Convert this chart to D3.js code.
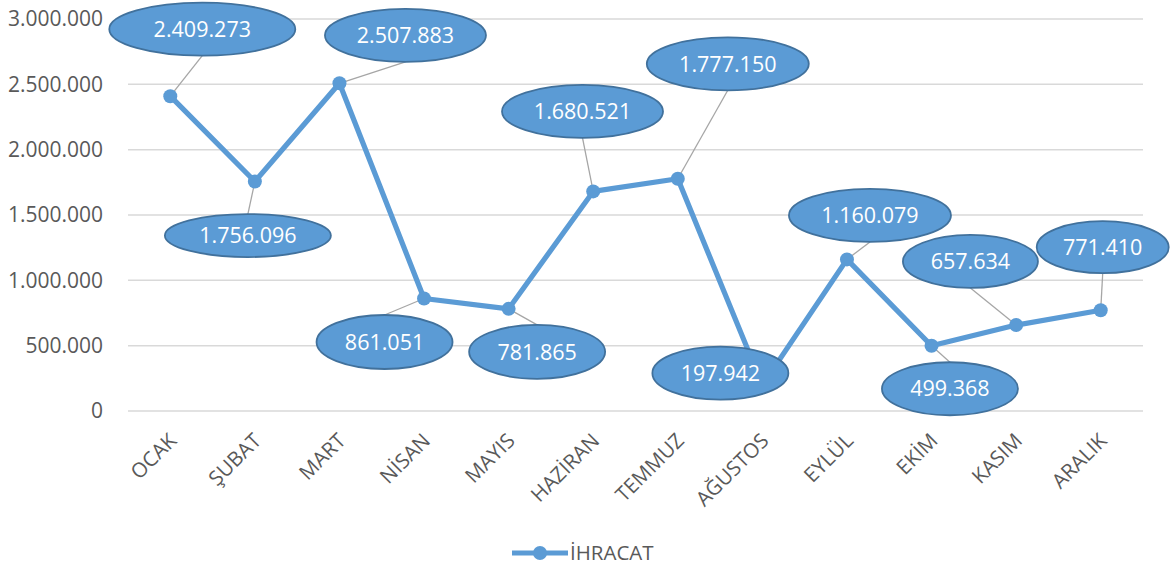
<!DOCTYPE html>
<html>
<head>
<meta charset="utf-8">
<script src="https://cdn.jsdelivr.net/npm/d3@7"></script>
<style>
  html, body { margin: 0; padding: 0; background: #fff; }
  svg { display: block; }
  text { font-family: "Open Sans", "DejaVu Sans", sans-serif; }
</style>
</head>
<body>
<svg id="chart" width="1170" height="567"></svg>
<script>
// ---- data ----
const months = ["OCAK", "ŞUBAT", "MART", "NİSAN", "MAYIS", "HAZİRAN", "TEMMUZ", "AĞUSTOS", "EYLÜL", "EKİM", "KASIM", "ARALIK"];
const ihracat = [2409273, 1756096, 2507883, 861051, 781865, 1680521, 1777150, 197942, 1160079, 499368, 657634, 771410];
const yTicks = [0, 500000, 1000000, 1500000, 2000000, 2500000, 3000000];
const seriesName = "İHRACAT";

// ---- label layout (offset from point, ellipse radii) ----
const labelLayout = [
  { dx: 32,  dy: -67,  rx: 93, ry: 26.5, leader: true },
  { dx: -7,  dy: 54,   rx: 83, ry: 21.5, leader: true },
  { dx: 66,  dy: -48,  rx: 80.5, ry: 26.5, leader: true },
  { dx: -39.5, dy: 43.5, rx: 68, ry: 27, leader: true },
  { dx: 28.5, dy: 43,  rx: 68, ry: 27, leader: true },
  { dx: -10.7, dy: -80, rx: 80.5, ry: 26.5, leader: true },
  { dx: 50,  dy: -115, rx: 81, ry: 26.5, leader: true },
  { dx: -42, dy: -12,  rx: 68, ry: 26.5, leader: false },
  { dx: 23,  dy: -44,  rx: 81, ry: 26.5, leader: true },
  { dx: 18.4, dy: 43,  rx: 68, ry: 26.5, leader: true },
  { dx: -45.7, dy: -63.6, rx: 67.5, ry: 26.5, leader: true },
  { dx: 2,   dy: -63,  rx: 66, ry: 26, leader: true }
];

const fmt = v => d3.format(",")(v).replace(/,/g, ".");

const svg = d3.select("#chart");
const plotLeft = 128, plotRight = 1143, plotTop = 19, plotBottom = 411;

const x = d3.scalePoint().domain(months).range([plotLeft, plotRight]).padding(0.5);
const y = d3.scaleLinear().domain([0, 3000000]).range([plotBottom, plotTop]);

// gridlines
svg.append("g").selectAll("line").data(yTicks).join("line")
  .attr("x1", plotLeft).attr("x2", plotRight)
  .attr("y1", d => y(d)).attr("y2", d => y(d))
  .attr("stroke", "#d9d9d9").attr("stroke-width", 1.5);

// y axis labels
const yAxis = d3.axisLeft(y).tickValues(yTicks).tickFormat(fmt).tickSize(0).tickPadding(0);
const gy = svg.append("g").attr("transform", `translate(103,0)`).call(yAxis);
gy.select(".domain").remove();
gy.selectAll("text").attr("font-size", 21).attr("fill", "#595959")
  .attr("font-family", "'Open Sans', sans-serif");

// x axis labels
const xAxis = d3.axisBottom(x).tickSize(0).tickPadding(0);
const gx = svg.append("g").attr("transform", `translate(0,${plotBottom})`).call(xAxis);
gx.select(".domain").remove();
gx.selectAll("text")
  .attr("font-size", 20.5).attr("fill", "#595959")
  .attr("font-family", "'Open Sans', sans-serif")
  .attr("text-anchor", "end")
  .attr("dy", null).attr("y", null)
  .attr("transform", "translate(7,31) rotate(-45)");

const pts = months.map((m, i) => ({ m, v: ihracat[i], px: x(m), py: y(ihracat[i]), L: labelLayout[i] }));

// leader lines
svg.append("g").selectAll("line").data(pts.filter(p => p.L.leader)).join("line")
  .attr("x1", p => p.px).attr("y1", p => p.py)
  .attr("x2", p => p.px + p.L.dx)
  .attr("y2", p => p.py + p.L.dy + (p.L.dy < 0 ? p.L.ry : -p.L.ry))
  .attr("stroke", "#a6a6a6").attr("stroke-width", 1.3);

// series line
const line = d3.line().x(p => p.px).y(p => p.py);
svg.append("path").datum(pts).attr("d", line)
  .attr("fill", "none").attr("stroke", "#5b9bd5").attr("stroke-width", 5.2)
  .attr("stroke-linejoin", "round");

svg.append("g").selectAll("circle").data(pts).join("circle")
  .attr("cx", p => p.px).attr("cy", p => p.py).attr("r", 7)
  .attr("fill", "#5b9bd5");

// labels
const lg = svg.append("g").selectAll("g").data(pts).join("g")
  .attr("transform", p => `translate(${p.px + p.L.dx},${p.py + p.L.dy})`);
lg.append("ellipse").attr("rx", p => p.L.rx).attr("ry", p => p.L.ry)
  .attr("fill", "#5b9bd5").attr("stroke", "#41719c").attr("stroke-width", 1.8);
lg.append("text").text(p => fmt(p.v))
  .attr("text-anchor", "middle").attr("dy", "0.36em")
  .attr("font-size", 21.5).attr("fill", "#ffffff");

// legend
const leg = svg.append("g").attr("transform", "translate(512,553)");
leg.append("line").attr("x1", 0).attr("x2", 56).attr("y1", 0).attr("y2", 0)
  .attr("stroke", "#5b9bd5").attr("stroke-width", 5);
leg.append("circle").attr("cx", 28).attr("cy", 0).attr("r", 7).attr("fill", "#5b9bd5");
leg.append("text").attr("x", 58).attr("dy", "0.36em").text(seriesName)
  .attr("font-size", 20.5).attr("fill", "#595959");
</script>
</body>
</html>
